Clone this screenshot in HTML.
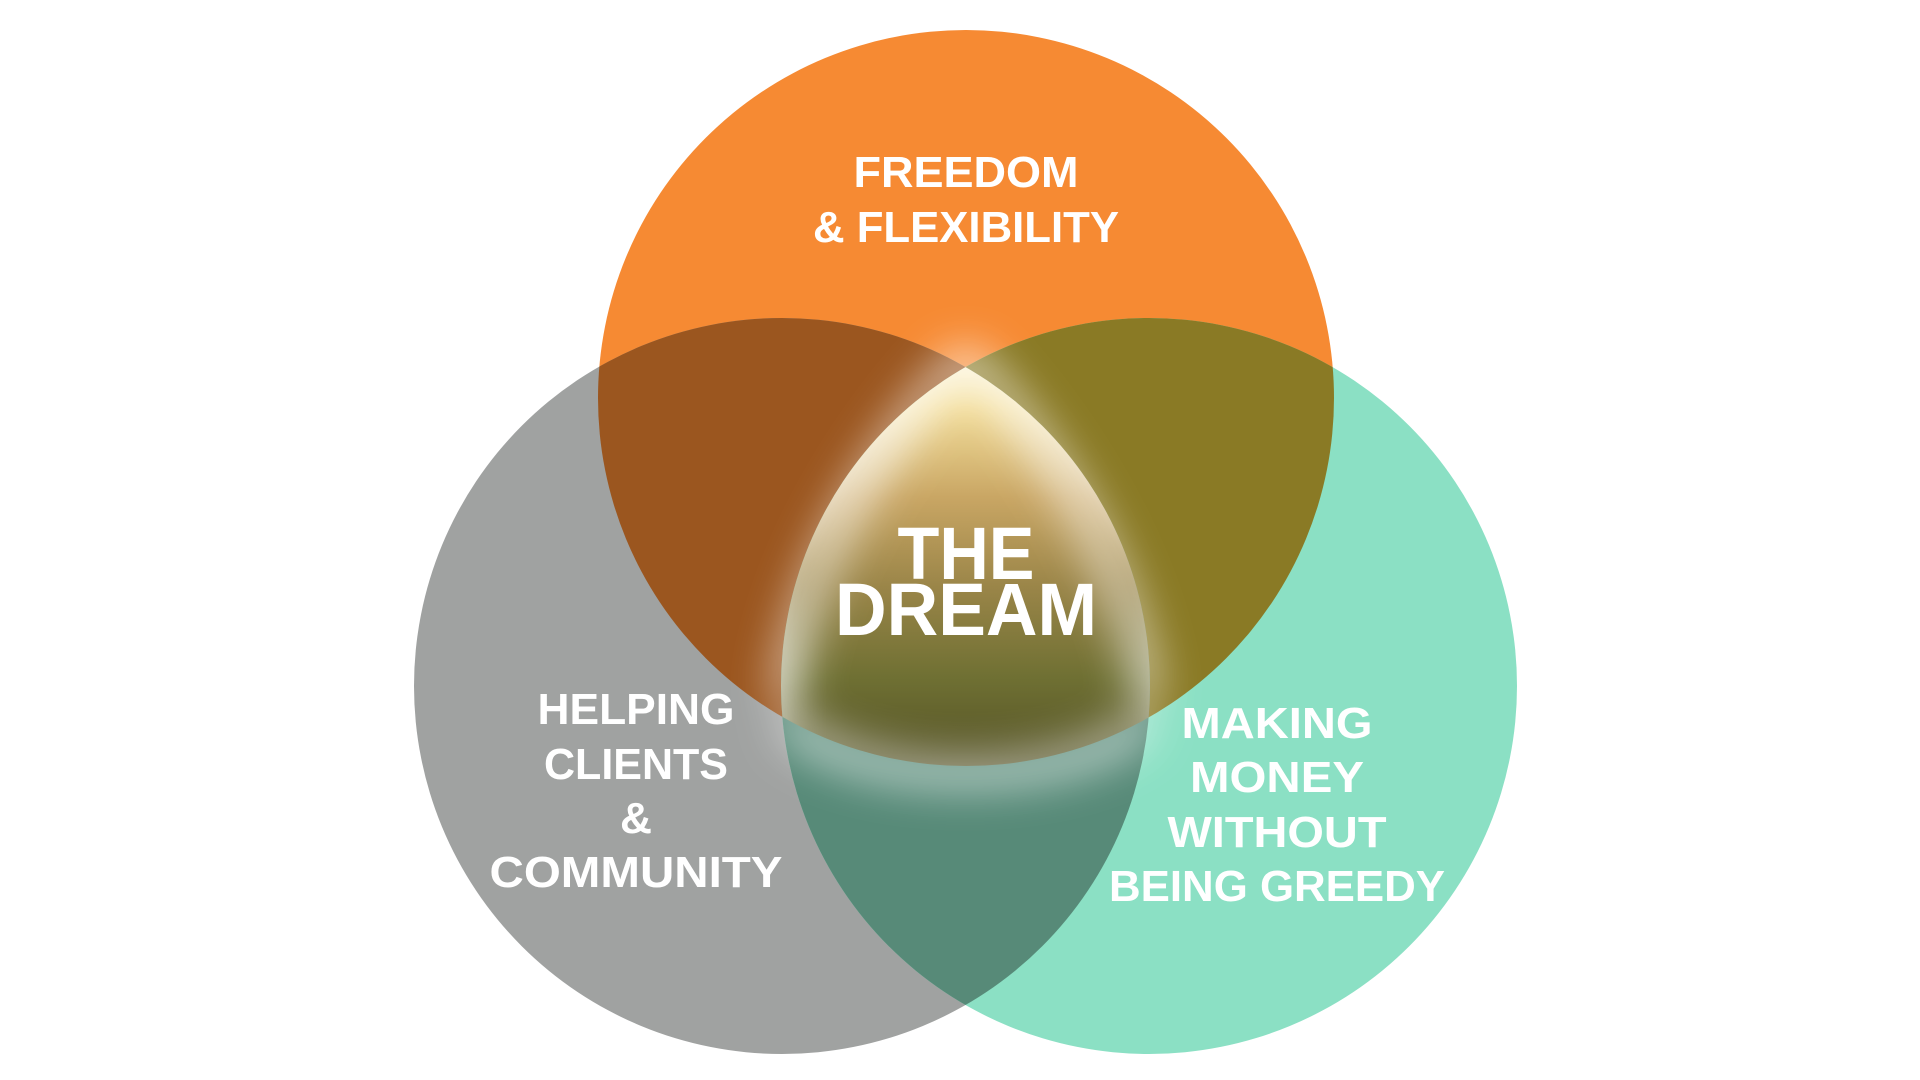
<!DOCTYPE html>
<html><head><meta charset="utf-8"><style>
html,body{margin:0;padding:0;background:#fff;width:1920px;height:1080px;overflow:hidden}
text{font-family:"Liberation Sans",sans-serif;font-weight:bold;fill:#fff;text-anchor:middle}
</style></head><body>
<svg width="1920" height="1080" viewBox="0 0 1920 1080">
<defs>
<clipPath id="cO"><circle cx="966" cy="398" r="368"/></clipPath>
<clipPath id="cG"><circle cx="782" cy="686" r="368"/></clipPath>
<clipPath id="cR"><circle cx="1149" cy="686" r="368"/></clipPath>
<linearGradient id="land" x1="0" y1="0" x2="0" y2="1">
<stop offset="0" stop-color="#fff8d8"/>
<stop offset="0.15" stop-color="#f2dc98"/>
<stop offset="0.35" stop-color="#c9a664"/>
<stop offset="0.55" stop-color="#9a8548"/>
<stop offset="0.75" stop-color="#6f7033"/>
<stop offset="1" stop-color="#4d4a22"/>
</linearGradient>
<filter id="blur" x="-20%" y="-20%" width="140%" height="140%"><feGaussianBlur stdDeviation="22"/></filter>
</defs>
<circle cx="966" cy="398" r="368" fill="#f68a33"/>
<circle cx="782" cy="686" r="368" fill="#a0a2a1"/>
<circle cx="1149" cy="686" r="368" fill="#8be0c4"/>
<g clip-path="url(#cO)"><circle cx="782" cy="686" r="368" fill="#9b561f"/><circle cx="1149" cy="686" r="368" fill="#8a7a25"/></g>
<g clip-path="url(#cG)"><circle cx="1149" cy="686" r="368" fill="#578a78"/></g>
<g clip-path="url(#cO)"><g clip-path="url(#cG)"><g clip-path="url(#cR)">
<rect x="760" y="340" width="420" height="450" fill="url(#land)"/>
</g></g></g>
<g clip-path="url(#cO)"><g clip-path="url(#cG)"><g clip-path="url(#cR)">
<g filter="url(#blur)" opacity="0.95">
<path d="M966 300 L760 560 L760 820 L1180 820 L1180 560 Z" fill="none" stroke="#fff" stroke-width="40"/>
</g></g></g></g>
<g filter="url(#blur)" opacity="0.9">
<path d="M966 355 C900 420 800 560 785 700" fill="none" stroke="#fff" stroke-width="20"/>
<path d="M966 355 C1030 420 1130 560 1148 700" fill="none" stroke="#fff" stroke-width="20"/>
<path d="M785 720 C850 790 1080 790 1148 720" fill="none" stroke="#fff" stroke-width="20"/>
</g>
<text x="966" y="187" font-size="44" textLength="225" lengthAdjust="spacingAndGlyphs">FREEDOM</text>
<text x="966" y="242" font-size="44" textLength="306" lengthAdjust="spacingAndGlyphs">&amp; FLEXIBILITY</text>
<text x="966" y="579" font-size="74" textLength="137" lengthAdjust="spacingAndGlyphs">THE</text>
<text x="966" y="635" font-size="74" textLength="262" lengthAdjust="spacingAndGlyphs">DREAM</text>
<text x="636" y="724" font-size="44" textLength="197" lengthAdjust="spacingAndGlyphs">HELPING</text>
<text x="636" y="779" font-size="44" textLength="184" lengthAdjust="spacingAndGlyphs">CLIENTS</text>
<text x="636" y="833" font-size="44" textLength="32" lengthAdjust="spacingAndGlyphs">&amp;</text>
<text x="636" y="887" font-size="44" textLength="293" lengthAdjust="spacingAndGlyphs">COMMUNITY</text>
<text x="1277" y="738" font-size="44" textLength="191" lengthAdjust="spacingAndGlyphs">MAKING</text>
<text x="1277" y="792" font-size="44" textLength="174" lengthAdjust="spacingAndGlyphs">MONEY</text>
<text x="1277" y="847" font-size="44" textLength="219" lengthAdjust="spacingAndGlyphs">WITHOUT</text>
<text x="1277" y="901" font-size="44" textLength="336" lengthAdjust="spacingAndGlyphs">BEING GREEDY</text>
</svg>
</body></html>
